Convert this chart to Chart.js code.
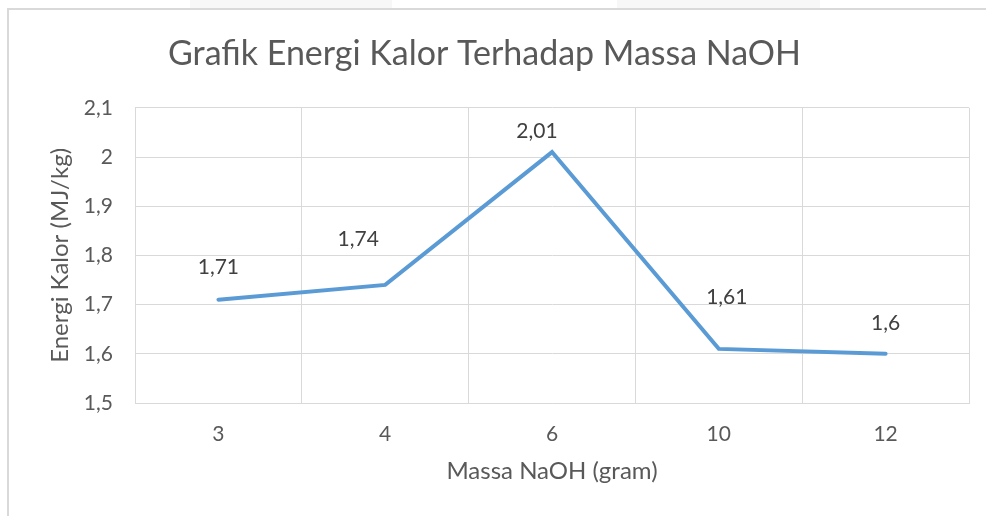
<!DOCTYPE html>
<html>
<head>
<meta charset="utf-8">
<script src="https://cdn.jsdelivr.net/npm/chart.js@4"></script>
<style>
  body { margin: 0; background: #fff; }
  .wrap { position: relative; width: 986px; height: 516px; overflow: hidden; }
  .frame { position: absolute; left: 7px; top: 8px; right: 0; bottom: -2px; border-left: 2px solid #d9d9d9; border-top: 2px solid #d9d9d9; }
  .tab { position: absolute; top: 0; height: 8px; background: #f7f7f7; }
  canvas { position: absolute; left: 0; top: 0; }
</style>
</head>
<body>
<div class="wrap">
  <div class="tab" style="left:190px;width:202px"></div>
  <div class="tab" style="left:617px;width:203px"></div>
  <div class="frame"></div>
  <canvas id="chart" width="986" height="516"></canvas>
</div>
<script>
const massa = ['3', '4', '6', '10', '12'];
const energi = [1.71, 1.74, 2.01, 1.61, 1.6];
const yTicks = [1.5, 1.6, 1.7, 1.8, 1.9, 2.0, 2.1];

// label offsets (px) relative to each point, like the hand-placed labels
const labelShift = [[0, -32], [-27, -46], [-15, -21], [8, -52], [0, -31]];

const fontFamily = "Lato, 'Open Sans', sans-serif";
const textColor = '#595959';
const gridColor = '#d9d9d9';

function comma(v) {
  return String(+Number(v).toFixed(2)).replace('.', ',');
}

const pointLabels = {
  id: 'pointLabels',
  afterDatasetsDraw(chart) {
    const ctx = chart.ctx;
    const meta = chart.getDatasetMeta(0);
    ctx.save();
    ctx.font = '21px ' + fontFamily;
    ctx.fillStyle = '#404040';
    ctx.textAlign = 'center';
    ctx.textBaseline = 'middle';
    meta.data.forEach((pt, i) => {
      const s = labelShift[i];
      ctx.fillText(comma(energi[i]), pt.x + s[0], pt.y + s[1]);
    });
    ctx.restore();
  }
};

const ctx = document.getElementById('chart').getContext('2d');
new Chart(ctx, {
  type: 'line',
  data: {
    labels: massa,
    datasets: [{
      data: energi,
      borderColor: '#5b9bd5',
      borderWidth: 4,
      pointRadius: 0,
      tension: 0,
      borderCapStyle: 'round',
      borderJoinStyle: 'miter'
    }]
  },
  options: {
    responsive: false,
    animation: false,
    layout: { padding: { left: 0, right: 17, top: 0, bottom: 0 } },
    plugins: {
      legend: { display: false },
      tooltip: { enabled: false },
      title: {
        display: true,
        text: 'Grafik Energi Kalor Terhadap Massa NaOH',
        color: textColor,
        font: { family: fontFamily, size: 34, weight: 'normal' },
        padding: { top: 34, bottom: 33 }
      }
    },
    scales: {
      x: {
        offset: true,
        grid: { offset: true, color: gridColor, lineWidth: 1, drawTicks: false },
        border: { color: gridColor, width: 1 },
        ticks: { color: textColor, font: { family: fontFamily, size: 21 }, padding: 19 },
        title: {
          display: true,
          text: 'Massa NaOH (gram)',
          color: textColor,
          font: { family: fontFamily, size: 24 },
          padding: { top: 0, bottom: 30 }
        },
        afterFit(scale) { scale.height = 113; }
      },
      y: {
        min: 1.5,
        max: 2.1,
        afterBuildTicks(scale) {
          scale.ticks = yTicks.map(v => ({ value: v }));
        },
        grid: { color: gridColor, lineWidth: 1, drawTicks: false },
        border: { color: gridColor, width: 1 },
        ticks: {
          color: textColor,
          font: { family: fontFamily, size: 21 },
          padding: 22,
          callback: v => comma(v)
        },
        title: {
          display: true,
          text: 'Energi Kalor (MJ/kg)',
          color: textColor,
          font: { family: fontFamily, size: 24 },
          padding: { top: 46, bottom: 0 }
        },
        afterFit(scale) { scale.width = 135; }
      }
    }
  },
  plugins: [pointLabels]
});
</script>
</body>
</html>
